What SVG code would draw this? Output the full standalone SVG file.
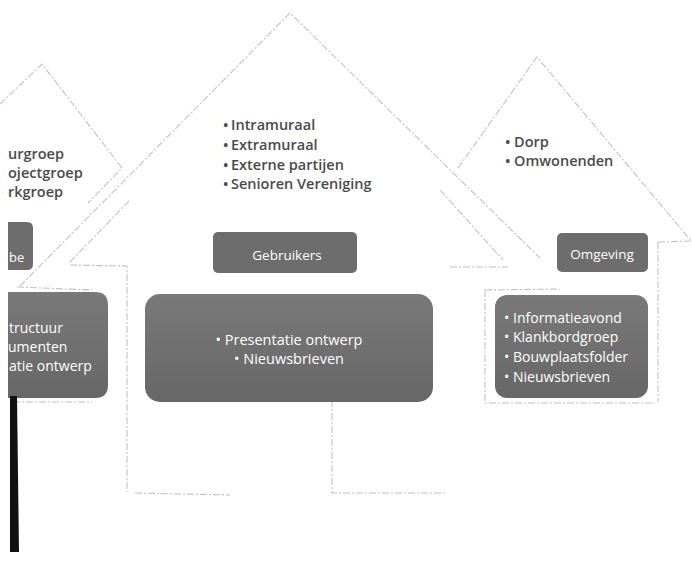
<svg xmlns="http://www.w3.org/2000/svg" width="692" height="562" viewBox="0 0 692 562">
<style>
.ol{fill:none;stroke:#c2c2c2;stroke-width:1.1;stroke-dasharray:7 2 2 2}
.rt{font-family:"Open Sans","Liberation Sans",sans-serif;font-size:14.5px;font-weight:600;fill:#4a4a4a}
.wt{font-family:"Open Sans","Liberation Sans",sans-serif;font-size:14px;fill:#ffffff}
.lb{fill:#6d6d6d}
.bx{fill:url(#bg)}
</style>
<defs>
<linearGradient id="bg" x1="0" y1="0" x2="0" y2="1">
<stop offset="0" stop-color="#797979"/>
<stop offset="1" stop-color="#676767"/>
</linearGradient>
</defs>
<rect width="692" height="562" fill="#ffffff"/>

<g id="house-left">
<path class="ol" d="M0,104 L42,64 L122,168 L88,203"/>
<path class="ol" d="M17,287 L92,290 M13,402 L92,402"/>
<text class="rt" x="8" y="159">urgroep</text>
<text class="rt" x="8" y="178">ojectgroep</text>
<text class="rt" x="8" y="197">rkgroep</text>
<path class="lb" d="M8,222 H27 Q33,222 33,228 V264 Q33,270 27,270 H8 Z"/>
<text class="wt" style="font-size:13px" x="9" y="262">be</text>
<path class="bx" d="M8,292 H95 Q108,292 108,305 V385 Q108,398 95,398 H8 Z"/>
<text class="wt" x="9" y="333">tructuur</text>
<text class="wt" x="8" y="352">umenten</text>
<text class="wt" x="9" y="371">atie ontwerp</text>
</g>

<g id="house-right">
<path class="ol" d="M458,168 L537,57 L692,242"/>
<path class="ol" d="M658,242 L692,241 M658,242 L658,402 M485,290 L560,289 M485,290 L485,403 L655,403"/>
<text class="rt" x="505" y="147">•<tspan x="514">Dorp</tspan></text>
<text class="rt" x="505" y="166">•<tspan x="514">Omwonenden</tspan></text>
<rect class="lb" x="557" y="233" width="91" height="39" rx="5"/>
<text class="wt" style="font-size:13.5px" x="602" y="259" text-anchor="middle">Omgeving</text>
<rect class="bx" x="495" y="295" width="153" height="103" rx="12"/>
<text class="wt" x="504" y="323">•<tspan x="513">Informatieavond</tspan></text>
<text class="wt" x="504" y="342">•<tspan x="513">Klankbordgroep</tspan></text>
<text class="wt" x="504" y="362">•<tspan x="513">Bouwplaatsfolder</tspan></text>
<text class="wt" x="504" y="382">•<tspan x="513">Nieuwsbrieven</tspan></text>
</g>

<g id="house-middle">
<path class="ol" d="M20,286 L290,13 L540,258"/>
<path class="ol" d="M70,262 L130,200 M70,265 L127,266 L127,492 M135,493 L230,495 M332,400 L332,493 L447,493 M440,190 L503,260 M450,267 L508,267"/>
<text class="rt" x="223" y="130">•<tspan x="231">Intramuraal</tspan></text>
<text class="rt" x="223" y="150">•<tspan x="231">Extramuraal</tspan></text>
<text class="rt" x="223" y="170">•<tspan x="231">Externe partijen</tspan></text>
<text class="rt" x="223" y="189">•<tspan x="231">Senioren Vereniging</tspan></text>
<rect class="lb" x="213" y="232" width="144" height="41" rx="5"/>
<text class="wt" style="font-size:13.5px" x="287" y="260" text-anchor="middle">Gebruikers</text>
<rect class="bx" x="145" y="294" width="288" height="108" rx="15"/>
<text class="wt" style="font-size:14.5px" x="289" y="345" text-anchor="middle">• Presentatie ontwerp</text>
<text class="wt" style="font-size:14.5px" x="289" y="364" text-anchor="middle">• Nieuwsbrieven</text>
</g>

<polygon points="10,396 17,396 19,552 10,552" fill="#111111"/>
</svg>
